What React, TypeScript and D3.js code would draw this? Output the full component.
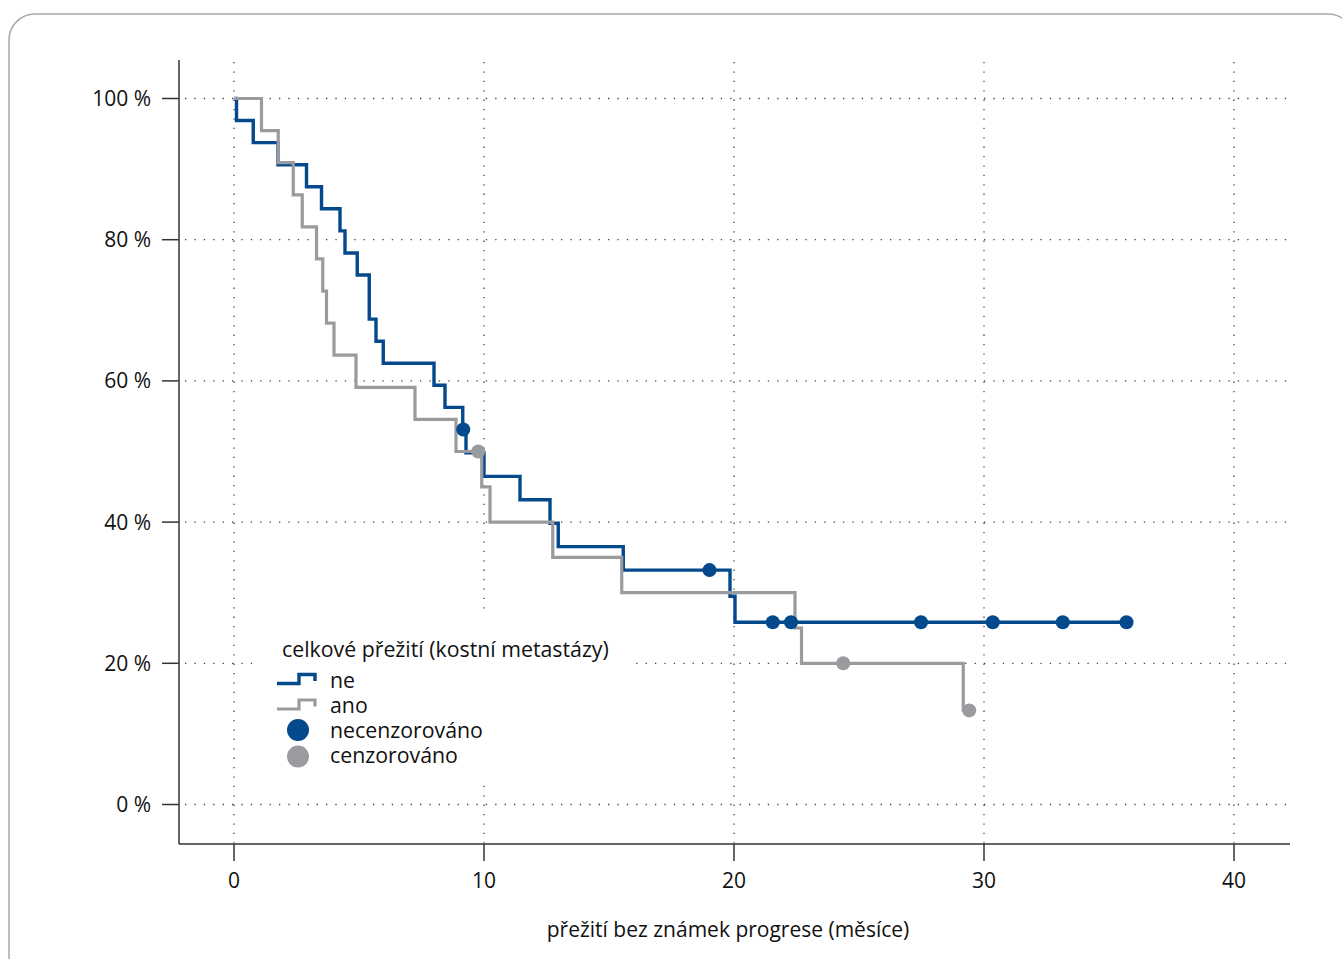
import React from "react";
import * as d3 from "d3";

// ---- data ----
const xTicks = [0, 10, 20, 30, 40];
const yTicks = [0, 20, 40, 60, 80, 100];

// "ne" (no bone metastases): step times (months) and survival (%)
const neTimes = [0, 0.1, 0.77, 1.76, 2.9, 3.5, 4.24, 4.44, 4.93, 5.41, 5.68, 5.97, 8.0, 8.44, 9.15, 9.28, 10.0, 11.44, 12.64, 12.97, 15.57, 19.84, 20.04];
const neSurv = [100, 96.875, 93.75, 90.625, 87.5, 84.375, 81.25, 78.125, 75, 68.75, 65.625, 62.5, 59.375, 56.25, 53.125, 49.8, 46.48, 43.16, 39.84, 36.52, 33.2, 29.5, 25.82];
const neEnd = 35.7;
const neCensored = [9.17, 19.02, 21.55, 22.28, 27.48, 30.35, 33.15, 35.7];

// "ano" (bone metastases)
const anoTimes = [0, 1.1, 1.77, 2.37, 2.73, 3.3, 3.55, 3.7, 4.0, 4.88, 7.24, 8.88, 9.91, 10.24, 12.75, 15.51, 22.44, 22.7, 29.17];
const anoSurv = [100, 95.45, 90.91, 86.36, 81.82, 77.27, 72.73, 68.18, 63.64, 59.09, 54.55, 50, 45, 40, 35, 30, 25, 20, 13.33];
const anoEnd = 29.41;
const anoCensored = [9.77, 24.37, 29.41];

const legendTitle = "celkové přežití (kostní metastázy)";
const legendLabels = ["ne", "ano", "necenzorováno", "cenzorováno"];
const xTitle = "přežití bez známek progrese (měsíce)";

const BLUE = "#03498b";
const GRAY = "#9a9b9f";
const FONT = "'Open Sans', 'DejaVu Sans', sans-serif";

export default function App() {
  const W = 1342;
  const H = 959;
  const x = d3.scaleLinear().domain([0, 40]).range([234, 1234]);
  const y = d3.scaleLinear().domain([0, 100]).range([804.5, 98.5]);
  const plotLeft = 179;
  const plotRight = 1290;
  const plotTop = 60;
  const plotBottom = 844;

  const line = d3
    .line<[number, number]>()
    .x((d) => x(d[0]))
    .y((d) => y(d[1]))
    .curve(d3.curveStepAfter);

  const mkPts = (times: number[], surv: number[], end: number): [number, number][] => {
    const pts: [number, number][] = times.map((t, i) => [t, surv[i]] as [number, number]);
    pts.push([end, surv[surv.length - 1]]);
    return pts;
  };
  const survAt = (times: number[], surv: number[], t: number) => {
    const i = d3.bisectRight(times, t) - 1;
    return surv[Math.max(0, i)];
  };

  const nePts = mkPts(neTimes, neSurv, neEnd);
  const anoPts = mkPts(anoTimes, anoSurv, anoEnd);

  const dotted = { stroke: "#444", strokeWidth: 1.3, strokeDasharray: "1.3 8.1" };

  return (
    <svg width={W} height={H} style={{ display: "block", position: "absolute", left: 0, top: 0 }} fontFamily={FONT}>
      <rect x={0} y={0} width={W} height={H} fill="#fff" />
      <rect x={9} y={14} width={1345} height={970} rx={26} ry={26} fill="none" stroke="#a9a9a9" strokeWidth={1.5} />

      {/* grid */}
      {yTicks.map((t) => (
        <line key={"gy" + t} x1={plotLeft + 6} x2={plotRight} y1={y(t)} y2={y(t)} {...dotted} />
      ))}
      {xTicks.map((t) => (
        <line key={"gx" + t} x1={x(t)} x2={x(t)} y1={plotTop + 2} y2={plotBottom} {...dotted} />
      ))}

      {/* legend background */}
      <rect x={256} y={612} width={378} height={172} fill="#fff" />

      {/* axes */}
      <line x1={plotLeft} x2={plotLeft} y1={plotTop} y2={plotBottom} stroke="#333" strokeWidth={1.5} />
      <line x1={plotLeft} x2={plotRight} y1={plotBottom} y2={plotBottom} stroke="#333" strokeWidth={1.5} />
      {yTicks.map((t) => (
        <g key={"ty" + t}>
          <line x1={162} x2={plotLeft} y1={y(t)} y2={y(t)} stroke="#333" strokeWidth={1.5} />
          <text x={151} y={y(t) + 7.5} textAnchor="end" fontSize={21} fill="#111">
            {t + " %"}
          </text>
        </g>
      ))}
      {xTicks.map((t) => (
        <g key={"tx" + t}>
          <line x1={x(t)} x2={x(t)} y1={plotBottom} y2={861} stroke="#333" strokeWidth={1.5} />
          <text x={x(t)} y={888} textAnchor="middle" fontSize={21} fill="#111">
            {t}
          </text>
        </g>
      ))}
      <text x={728} y={937} textAnchor="middle" fontSize={21} fill="#111">
        {xTitle}
      </text>

      {/* curves */}
      <path d={line(nePts) || ""} fill="none" stroke={BLUE} strokeWidth={3.4} />
      <path d={line(anoPts) || ""} fill="none" stroke={GRAY} strokeWidth={3.2} />

      {/* censor marks */}
      {neCensored.map((t, i) => (
        <circle key={"nc" + i} cx={x(t)} cy={y(survAt(neTimes, neSurv, t))} r={7} fill={BLUE} />
      ))}
      {anoCensored.map((t, i) => (
        <circle key={"ac" + i} cx={x(t)} cy={y(survAt(anoTimes, anoSurv, t))} r={7} fill={GRAY} />
      ))}

      {/* legend */}
      <text x={282} y={657} fontSize={21.3} fill="#111">
        {legendTitle}
      </text>
      <path d="M277,683.5 H299 V674.5 H315 V681" fill="none" stroke={BLUE} strokeWidth={3.4} />
      <path d="M277,709 H299 V700 H315 V706.5" fill="none" stroke={GRAY} strokeWidth={3.2} />
      <circle cx={298} cy={730} r={11} fill={BLUE} />
      <circle cx={298} cy={756.5} r={11} fill={GRAY} />
      {legendLabels.map((l, i) => (
        <text key={l} x={330} y={687.5 + i * 25.3} fontSize={21.3} fill="#111">
          {l}
        </text>
      ))}
    </svg>
  );
}
